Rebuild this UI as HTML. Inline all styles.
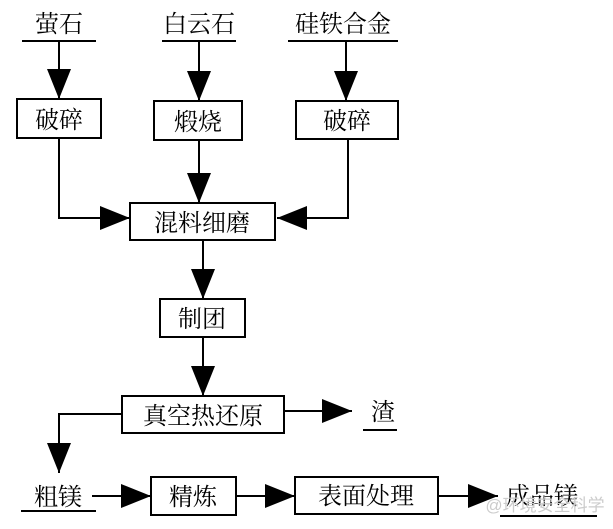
<!DOCTYPE html>
<html><head><meta charset="utf-8"><style>
html,body{margin:0;padding:0;background:#fff;}
svg{display:block;}
text{font-family:"Liberation Serif","Noto Serif CJK SC","Noto Sans CJK SC",serif;font-size:24px;fill:#000;text-anchor:middle;}
</style></head><body>
<svg width="613" height="529" viewBox="0 0 613 529" xmlns="http://www.w3.org/2000/svg">
<defs>
<marker id="b" viewBox="0 0 30 24" refX="30" refY="12" markerWidth="30" markerHeight="24" orient="auto" markerUnits="userSpaceOnUse"><path d="M0,0 L30,12 L0,24z" fill="#000"/></marker></defs>
<g stroke="#000" stroke-width="2" fill="none">
<line x1="22" y1="41" x2="96" y2="41"/>
<line x1="162" y1="41" x2="236" y2="41"/>
<line x1="288" y1="41" x2="398" y2="41"/>
<rect x="17" y="99" width="84" height="39"/>
<rect x="154" y="101" width="88" height="39"/>
<rect x="296" y="101" width="102" height="38"/>
<rect x="130" y="203" width="145" height="37"/>
<rect x="160" y="299" width="85" height="38"/>
<rect x="122" y="396" width="162" height="37"/>
<rect x="151" y="477" width="85" height="38"/>
<rect x="295" y="477" width="143" height="37"/>
<line x1="59" y1="41" x2="59" y2="99" marker-end="url(#b)"/>
<line x1="199" y1="41" x2="199" y2="101" marker-end="url(#b)"/>
<line x1="346" y1="41" x2="346" y2="101" marker-end="url(#b)"/>
<polyline points="59,138 59,218 130,218" marker-end="url(#b)"/>
<line x1="199" y1="140" x2="199" y2="203" marker-end="url(#b)"/>
<polyline points="348,139 348,218 277,218" marker-end="url(#b)"/>
<line x1="203" y1="240" x2="203" y2="299" marker-end="url(#b)"/>
<line x1="203" y1="337" x2="203" y2="396" marker-end="url(#b)"/>
<line x1="284" y1="411" x2="352" y2="411" marker-end="url(#b)"/>
<polyline points="122,414 59,414 59,473" marker-end="url(#b)"/>
<line x1="92" y1="496" x2="151" y2="496" marker-end="url(#b)"/>
<line x1="236" y1="496" x2="295" y2="496" marker-end="url(#b)"/>
<line x1="438" y1="496" x2="498" y2="496" marker-end="url(#b)"/>
<line x1="363" y1="430" x2="397" y2="430"/>
<line x1="21" y1="511" x2="96" y2="511"/>
<line x1="500" y1="516" x2="597" y2="516"/>
</g>
<text x="59" y="32">萤石</text>
<text x="199" y="32">白云石</text>
<text x="343" y="32">硅铁合金</text>
<text x="59" y="128">破碎</text>
<text x="198" y="130">煅烧</text>
<text x="347" y="129">破碎</text>
<text x="202" y="231">混料细磨</text>
<text x="202" y="327">制团</text>
<text x="203" y="424">真空热还原</text>
<text x="383" y="420">渣</text>
<text x="58" y="505">粗镁</text>
<text x="193" y="505">精炼</text>
<text x="366" y="504">表面处理</text>
<text x="542" y="504">成品镁</text>
<text x="545" y="511" style="font-size:17px;fill:#ccc;font-family:'Liberation Sans','Noto Sans CJK SC',sans-serif">@环境安全科学</text>
</svg>
</body></html>
